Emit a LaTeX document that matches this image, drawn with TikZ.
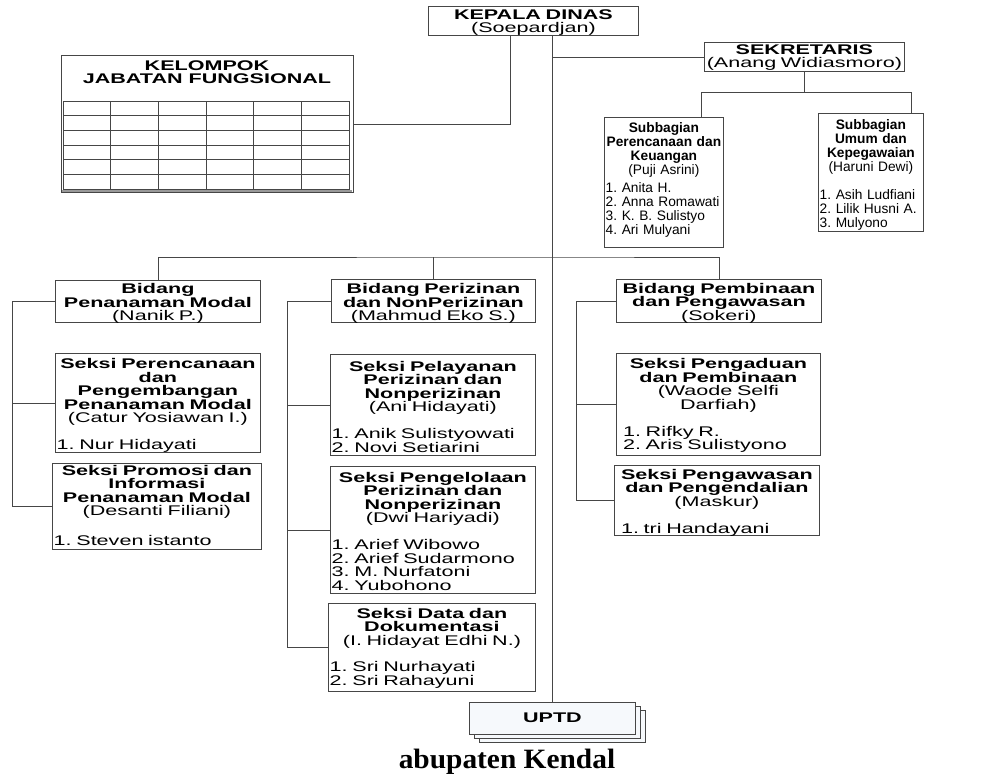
\documentclass[tikz,border=0pt]{standalone}
\usepackage{fontspec}
\usepackage{tikz}
\usetikzlibrary{calc, shadows}

\newfontfamily\orgfont[FakeStretch=1.54]{Liberation Sans}
\newfontfamily\subfont{Liberation Sans}
\newfontfamily\kabfont[FakeStretch=1.05]{Liberation Serif}
\newcommand{\orgtext}{\orgfont\fontsize{10.5}{10.1}\selectfont\lineskiplimit=-10pt\frenchspacing}
\newcommand{\subtext}{\subfont\fontsize{10.3}{10.5}\selectfont\lineskiplimit=-10pt\frenchspacing}
\newcommand{\staff}[2][0pt]{\parbox[t]{\linewidth}{\raggedright\leftskip=#1 #2}}
\definecolor{linec}{RGB}{70,70,70}
\definecolor{uptdfill}{RGB}{246,249,252}

\tikzset{
    orgbox/.style n args={3}{draw=linec, line width=0.6pt, anchor=north west, inner xsep=1pt, inner ysep=0pt,
        minimum width=#1*0.75pt, text width=#1*0.75pt-2pt, text height=#3*0.75pt, text depth=#2*0.75pt-#3*0.75pt,
        align=center, font=\orgtext},
    link/.style={draw=linec, line width=0.6pt}
}

\begin{document}
\begin{tikzpicture}[x=0.75pt, y=-0.75pt]
                    \useasboundingbox (0, 0) rectangle (993, 778);

                    \node[orgbox={210}{29}{13}] (kadis) at (428, 6) {\textbf{KEPALA DINAS}\\(Soepardjan)};
                    \node[orgbox={200}{29}{12}] (sek) at (704, 42) {\textbf{SEKRETARIS}\\(Anang Widiasmoro)};

                    \node[orgbox={292}{137}{10}] (kjf) at (61, 55) {};
                    \node[font=\orgtext, align=center] (kjft) at (207, 72) {\textbf{KELOMPOK}\\\textbf{JABATAN FUNGSIONAL}};
                    \draw[link] (63, 101) rectangle (349, 189);
                    \foreach \c in {1,...,5} {
                        \draw[link] (63 + 47.67*\c, 101) -- (63 + 47.67*\c, 189);
                    }
                    \foreach \r in {1,...,5} {
                        \draw[link] (63, 101 + 14.67*\r) -- (349, 101 + 14.67*\r);
                    }
                    \draw[black!40, line width=1.5pt] (62, 191) -- (352, 191);

                    \node[orgbox={119}{130}{14.7}, font=\subtext] (sp) at (604, 117)
                        {\textbf{Subbagian}\\\textbf{Perencanaan dan}\\\textbf{Keuangan}\\(Puji Asrini)\\[3pt]
                        \staff{1. Anita H.\\2. Anna Romawati\\3. K. B. Sulistyo\\4. Ari Mulyani}};
                    \node[orgbox={105}{118}{16}, font=\subtext] (su) at (818, 113)
                        {\textbf{Subbagian}\\\textbf{Umum dan}\\\textbf{Kepegawaian}\\(Haruni Dewi)\\[10.5pt]
                        \staff{1. Asih Ludfiani\\2. Lilik Husni A.\\3. Mulyono}};

                    \node[orgbox={205}{42}{13.3}] (bpm) at (55, 280) {\textbf{Bidang}\\\textbf{Penanaman Modal}\\(Nanik P.)};
                    \node[orgbox={204}{43}{14.3}] (bpz) at (331, 279) {\textbf{Bidang Perizinan}\\\textbf{dan NonPerizinan}\\(Mahmud Eko S.)};
                    \node[orgbox={205}{43}{13.7}] (bpw) at (616, 279) {\textbf{Bidang Pembinaan}\\\textbf{dan Pengawasan}\\(Sokeri)};

                    \node[orgbox={205}{99}{15.3}] (spr) at (55, 353)
                        {\textbf{Seksi Perencanaan}\\\textbf{dan}\\\textbf{Pengembangan}\\\textbf{Penanaman Modal}\\(Catur Yosiawan I.)\\[10.1pt]
                        \staff{1. Nur Hidayati}};
                    \node[orgbox={209}{86}{12}] (spro) at (52, 463)
                        {\textbf{Seksi Promosi dan}\\\textbf{Informasi}\\\textbf{Penanaman Modal}\\(Desanti Filiani)\\[12.5pt]
                        \staff{1. Steven istanto}};

                    \node[orgbox={205}{101}{17}] (spl) at (330, 354)
                        {\textbf{Seksi Pelayanan}\\\textbf{Perizinan dan}\\\textbf{Nonperizinan}\\(Ani Hidayati)\\[10.1pt]
                        \staff{1. Anik Sulistyowati\\2. Novi Setiarini}};
                    \node[orgbox={205}{127}{16}] (spg) at (330, 466)
                        {\textbf{Seksi Pengelolaan}\\\textbf{Perizinan dan}\\\textbf{Nonperizinan}\\(Dwi Hariyadi)\\[10.1pt]
                        \staff{1. Arief Wibowo\\2. Arief Sudarmono\\3. M. Nurfatoni\\4. Yubohono}};
                    \node[orgbox={207}{88}{14.7}] (sdd) at (328, 603)
                        {\textbf{Seksi Data dan}\\\textbf{Dokumentasi}\\(I. Hidayat Edhi N.)\\[10.1pt]
                        \staff{1. Sri Nurhayati\\2. Sri Rahayuni}};

                    \node[orgbox={204}{102}{15.3}] (spd) at (616, 353)
                        {\textbf{Seksi Pengaduan}\\\textbf{dan Pembinaan}\\(Waode Selfi\\Darfiah)\\[10.1pt]
                        \staff[4pt]{1. Rifky R.\\2. Aris Sulistyono}};
                    \node[orgbox={205}{70}{14}] (spk) at (614, 465)
                        {\textbf{Seksi Pengawasan}\\\textbf{dan Pengendalian}\\(Maskur)\\[10.1pt]
                        \staff[4pt]{1. tri Handayani}};

                    \node[orgbox={166}{32}{20}, fill=uptdfill,
                        general shadow={shadow xshift=7.5pt, shadow yshift=-6pt, draw=linec, line width=0.6pt, fill=uptdfill},
                        general shadow={shadow xshift=3.75pt, shadow yshift=-3pt, draw=linec, line width=0.6pt, fill=uptdfill}]
                        (uptd) at (469, 702) {\textbf{UPTD}};

                    \node[font=\kabfont\fontsize{21}{21}\selectfont\bfseries, anchor=base] (kab) at (507, 768) {abupaten Kendal};

                    \coordinate (kjfin) at ($(kadis.south) + (-23, 0)$);
                    \coordinate (sekbar) at ($(sek.south) + (0, 21)$);
                    \coordinate (spin) at ($(sp.north) + (37.5, 0)$);
                    \coordinate (suin) at ($(su.north) + (40.5, 0)$);
                    \coordinate (bidbar) at (551, 257);

                    \draw[link]
                    (uptd.north) -- (uptd.north |- kadis.south)
                    (sek.west) -- (sek.west -| uptd.north)
                    (kjf.east) -| (kjfin)
                    (sek.south) -- (sekbar)
                    (spin) |- (sekbar) -| (suin)
                    (bpm.north) |- (bidbar) -| (bpw.north)
                    (bpz.north) -- (bpz.north |- bidbar);

                    \draw[link]
                    (bpm.west) -- ++(-43, 0) coordinate (bpmrail) |- (spro.west)
                    (spr.west) -- (spr.west -| bpmrail)
                    (bpz.west) -- ++(-44, 0) coordinate (bpzrail) |- (sdd.west)
                    (spl.west) -- (spl.west -| bpzrail)
                    (spg.west) -- (spg.west -| bpzrail)
                    (bpw.west) -- ++(-40, 0) coordinate (bpwrail) |- (spk.west)
                    (spd.west) -- (spd.west -| bpwrail);
                \end{tikzpicture}
\end{document}
